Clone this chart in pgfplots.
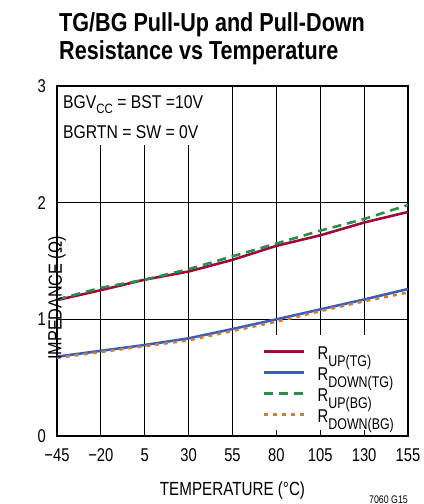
\documentclass[border=0pt]{standalone}
\usepackage{fontspec}
\setmainfont{Liberation Sans}[FakeStretch=0.8]
\newfontfamily\titlef{Liberation Sans}[FakeStretch=0.83]
\newfontfamily\annf{Liberation Sans}[FakeStretch=0.85]
\newfontfamily\plainf{Liberation Sans}
\usepackage{graphicx}
\usepackage{pgfplots}
\pgfplotsset{compat=1.18}
\definecolor{cUpTG}{HTML}{9B0C3A}
\definecolor{cDnTG}{HTML}{3E5DB4}
\definecolor{cUpBG}{HTML}{2E8B4A}
\definecolor{cDnBG}{HTML}{C97F3C}
\newcommand{\tk}{\fontsize{18.5bp}{20bp}\selectfont}
\newcommand{\lgf}{\fontsize{18.5bp}{20bp}\selectfont}
\newcommand{\lgs}[1]{\raisebox{-6.5bp}[0pt][0pt]{\fontsize{15.5bp}{16bp}\selectfont #1}}
\begin{document}
\begin{tikzpicture}
\path[use as bounding box] (-57bp,-68bp) rectangle (367bp,436bp);
\node[anchor=base west, inner sep=0, font=\fontsize{26bp}{28bp}\titlef\bfseries\selectfont] at (2bp,404bp) {TG/BG Pull-Up and Pull-Down};
\node[anchor=base west, inner sep=0, font=\fontsize{26bp}{28bp}\titlef\bfseries\selectfont] at (2bp,376bp) {Resistance vs Temperature};
\node[anchor=base east, inner sep=0, font=\fontsize{11bp}{12bp}\selectfont] at (351bp,-67bp) {7060 G15};
\begin{axis}[
  at={(0,0)}, anchor=south west,
  scale only axis, width=351bp, height=350bp,
  xmin=-45, xmax=155, ymin=0, ymax=3,
  xtick={-45,-20,5,30,55,80,105,130,155},
  xticklabels={−45,−20,5,30,55,80,105,130,155},
  ytick={0,1,2,3},
  grid=major, major grid style={black, line width=0.8pt},
  axis line style={black, line width=1.5pt},
  tick pos=left, tick align=inside, major tick length=5bp,
  tick style={black, line width=0.8pt},
  /pgf/number format/assume math mode=true,
  xticklabel style={font=\tk, anchor=base, inner sep=0pt, yshift=-25bp},
  yticklabel style={font=\tk, anchor=east, inner sep=0pt, xshift=-11bp},
  xlabel={TEMPERATURE (°C)},
  ylabel={\scalebox{0.85}[1]{IMPEDANCE (Ω)}},
  xlabel style={font=\fontsize{19bp}{20bp}\selectfont, at={(axis description cs:0.5,0)}, anchor=base, inner sep=0pt, yshift=-59bp},
  ylabel style={font=\fontsize{19bp}{20bp}\plainf\selectfont, at={(axis description cs:0,0.5)}, rotate=-0.3, anchor=center, inner sep=0pt, xshift=-37bp},
  legend style={at={(axis cs:69.5,0.0514)}, anchor=south west, draw=none, fill=none,
    inner xsep=5bp, inner ysep=0pt, row sep=0pt, column sep=12bp, font=\lgf,
    cells={anchor=west},
    nodes={inner sep=0pt, text height=14bp, text depth=7bp}},
  legend image code/.code={\draw[#1] (0bp,5bp) -- (40bp,5bp);},
  every axis plot/.append style={line width=2.6pt},
]
\addplot[cUpTG] coordinates {(-45,1.165) (-20,1.25) (5,1.34) (30,1.41) (55,1.51) (80,1.63) (105,1.72) (130,1.83) (155,1.92)};
\addlegendentry{R\lgs{UP(TG)}}
\addplot[cDnTG] coordinates {(-45,0.68) (-20,0.73) (5,0.78) (30,0.837) (55,0.917) (80,1.0) (105,1.085) (130,1.17) (155,1.26)};
\addlegendentry{R\lgs{DOWN(TG)}}
\addplot[cUpBG, dash pattern=on 9bp off 6bp] coordinates {(-45,1.17) (-20,1.27) (5,1.34) (30,1.43) (55,1.54) (80,1.65) (105,1.76) (130,1.86) (155,1.98)};
\addlegendentry{R\lgs{UP(BG)}}
\addplot[cDnBG, dash pattern=on 4bp off 5bp] coordinates {(-45,0.67) (-20,0.72) (5,0.77) (30,0.82) (55,0.90) (80,0.98) (105,1.07) (130,1.155) (155,1.23)};
\addlegendentry{R\lgs{DOWN(BG)}}
\fill[white] ([shift={(1bp,-1bp)}]axis cs:-45,3) rectangle (axis cs:53.5,2.49);
\fill[white] (axis cs:69.5,0.866) rectangle ([xshift=-1bp]axis cs:155,0.0514);
\node[anchor=base west, inner sep=0, font=\fontsize{18.5bp}{20bp}\annf\selectfont] at ([xshift=6bp]axis cs:-45,2.811) {BGV\raisebox{-0.3em}{\fontsize{13.5bp}{14bp}\selectfont CC} = BST =10V};
\node[anchor=base west, inner sep=0, font=\fontsize{18.5bp}{20bp}\annf\selectfont] at ([xshift=6bp]axis cs:-45,2.554) {BGRTN = SW = 0V};
\end{axis}
\end{tikzpicture}
\end{document}
